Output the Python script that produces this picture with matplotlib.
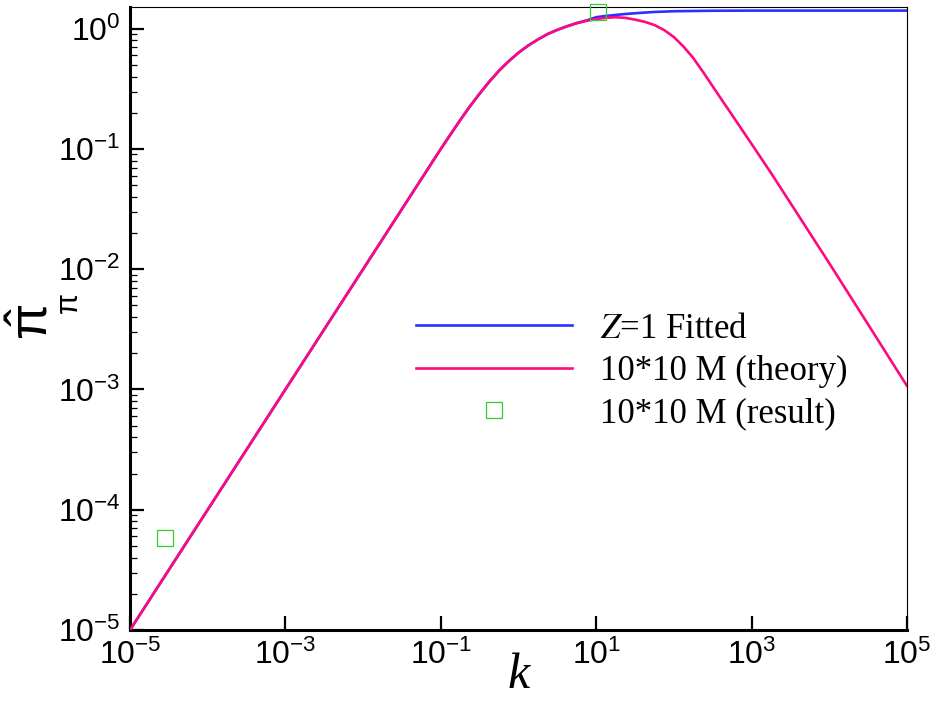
import matplotlib
matplotlib.use("Agg")
import matplotlib.pyplot as plt
from matplotlib.ticker import NullLocator

# values
k_pink = [1e-5, 1e-4, 1e-3, 1e-2, 0.1, 0.1334, 0.178, 0.2371, 0.316, 0.4217,
          0.562, 0.7499, 1.0, 1.334, 1.778, 2.371, 3.162, 4.217, 5.623, 7.499,
          10.0, 13.34, 17.78, 23.71, 31.62, 42.17, 56.23, 74.99, 100.0, 133.4,
          177.8, 237.1, 316.2, 421.7, 562.3, 1000.0, 1778.0, 3162.0, 1e4,
          31620.0, 1e5]
pi_theory = [1.0e-5, 1.0e-4, 1.0e-3, 1.0e-2, 0.100, 0.132, 0.174, 0.226, 0.288,
             0.363, 0.447, 0.537, 0.631, 0.724, 0.813, 0.902, 0.977, 1.047,
             1.109, 1.161, 1.202, 1.230, 1.245, 1.230, 1.189, 1.140, 1.072,
             0.973, 0.851, 0.708, 0.569, 0.437, 0.331, 0.251, 0.191, 0.110,
             0.0631, 0.0355, 0.0112, 0.00347, 0.00107]

k_blue = [1e-5, 1e-4, 1e-3, 1e-2, 0.1, 0.1334, 0.178, 0.2371, 0.316, 0.4217,
          0.562, 0.7499, 1.0, 1.334, 1.778, 2.371, 3.162, 4.217, 5.623, 7.499,
          10.0, 13.34, 17.78, 23.71, 31.62, 42.17, 56.23, 100.0, 177.8, 316.2,
          1000.0, 1e5]
pi_fitted = [1.0e-5, 1.0e-4, 1.0e-3, 1.0e-2, 0.100, 0.132, 0.174, 0.226, 0.288,
             0.363, 0.447, 0.537, 0.631, 0.724, 0.813, 0.902, 0.977, 1.047,
             1.114, 1.170, 1.245, 1.276, 1.300, 1.324, 1.343, 1.361, 1.377,
             1.396, 1.403, 1.409, 1.413, 1.413]

k_result = [2.8e-5, 10.4]
pi_result = [5.8e-5, 1.38]

BLUE = "#2E2EFF"
PINK = "#FF0A7E"
GREEN = "#33CC33"

plt.rcParams.update({
    "font.family": "Liberation Sans",
    "mathtext.default": "regular",
    "axes.unicode_minus": False,
})

fig = plt.figure(figsize=(9.44, 7.13), dpi=100)
ax = fig.add_axes([0.1377, 0.1164, 0.8231, 0.8731])

ax.plot(k_blue, pi_fitted, color=BLUE, lw=1.9, label=r"$\mathit{Z}$=1 Fitted",
        zorder=2)
ax.plot(k_pink, pi_theory, color=PINK, lw=1.9, label="10*10 M (theory)", zorder=3)
ax.plot(k_result, pi_result, "s", ms=12, mfc="none", mec=GREEN, mew=0.9,
        label="10*10 M (result)", zorder=4, clip_on=False)

ax.set_xscale("log")
ax.set_yscale("log")
ax.set_xlim(1e-5, 1e5)
ax.set_ylim(1e-5, 1.5)
ax.set_xticks([1e-5, 1e-3, 1e-1, 1e1, 1e3, 1e5])
ax.xaxis.set_minor_locator(NullLocator())
ax.set_yticks([1e-5, 1e-4, 1e-3, 1e-2, 1e-1, 1e0])

ax.tick_params(axis="both", which="major", direction="in", length=10, width=1.6,
               labelsize=23, top=False, right=False)
ax.tick_params(axis="y", which="minor", direction="in", length=5, width=0.9,
               right=False)
ax.tick_params(axis="x", pad=7)
ax.tick_params(axis="y", pad=7)

for side in ["left", "bottom"]:
    ax.spines[side].set_linewidth(2.2)
for side in ["top", "right"]:
    ax.spines[side].set_linewidth(0.8)

ax.set_xlabel("k", fontsize=36, family="Liberation Serif", style="italic",
              labelpad=-13)

# y label: hatted pi with a pi subscript, rotated like the reference
fig.text(34 / 944, 1 - 322 / 713, r"$\hat{\pi}$", rotation=90, fontsize=38,
         ha="center", va="center", math_fontfamily="dejavusans")
fig.text(70 / 944, 1 - 304 / 713, r"$\pi$", rotation=90, fontsize=22,
         ha="center", va="center", math_fontfamily="dejavusans")

leg = ax.legend(loc="upper left", bbox_to_anchor=(0.368, 0.51), frameon=False,
                borderpad=0, borderaxespad=0, handlelength=4.5, handletextpad=0.8,
                labelspacing=0.27, numpoints=1,
                prop={"family": "Liberation Serif", "size": 25})
for t in leg.get_texts():
    t.set_math_fontfamily("stix")

fig.savefig("out.png", dpi=100)
